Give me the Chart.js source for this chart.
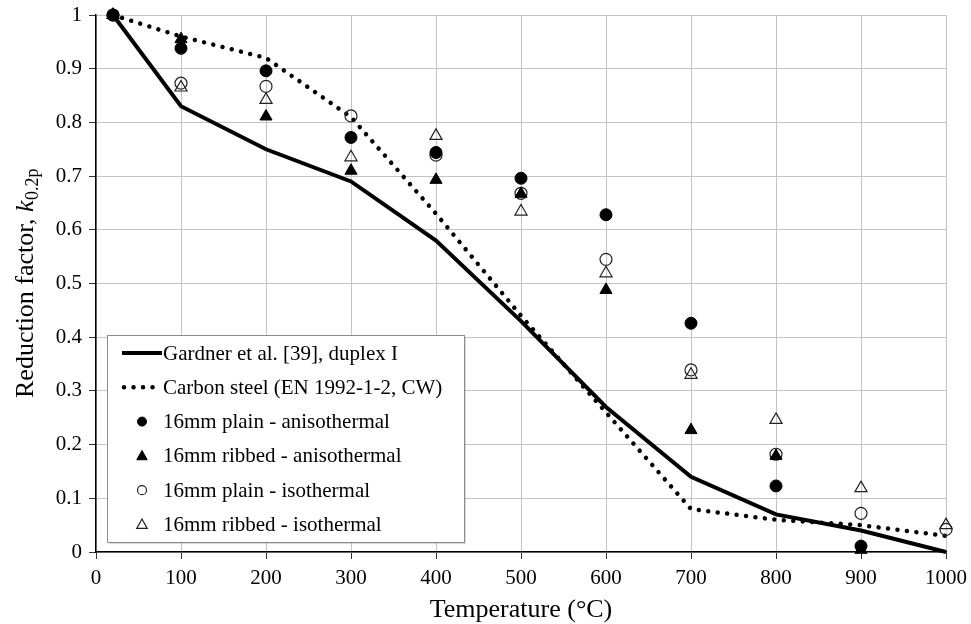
<!DOCTYPE html>
<html>
<head>
<meta charset="utf-8">
<script src="https://cdn.jsdelivr.net/npm/chart.js@4.4.1/dist/chart.umd.min.js"></script>
<style>
html,body{margin:0;padding:0;background:#fff;}
canvas{display:block;}
</style>
</head>
<body>
<canvas id="c" width="971" height="624"></canvas>
<script>
// ---- data ----
const curveTemps = [20, 100, 200, 300, 400, 500, 600, 700, 800, 900, 1000];
const gardnerDuplex = [1, 0.83, 0.75, 0.69, 0.58, 0.43, 0.27, 0.14, 0.07, 0.04, 0];
const carbonSteelCW = [1, 0.96, 0.92, 0.81, 0.63, 0.44, 0.26, 0.08, 0.06, 0.05, 0.03];

const anisoTemps = [20, 100, 200, 300, 400, 500, 600, 700, 800, 900];
const plainAniso  = [1, 0.938, 0.896, 0.772, 0.744, 0.696, 0.628, 0.426, 0.123, 0.011];
const ribbedAniso = [1, 0.955, 0.811, 0.710, 0.693, 0.667, 0.488, 0.227, 0.179, 0.004];

const isoTemps = [20, 100, 200, 300, 400, 500, 600, 700, 800, 900, 1000];
const plainIso  = [1, 0.873, 0.867, 0.812, 0.739, 0.668, 0.545, 0.339, 0.182, 0.072, 0.042];
const ribbedIso = [1, 0.865, 0.842, 0.735, 0.775, 0.634, 0.519, 0.330, 0.246, 0.119, 0.050];

const seriesNames = [
  'Gardner et al. [39], duplex I',
  'Carbon steel (EN 1992-1-2, CW)',
  '16mm plain - anisothermal',
  '16mm ribbed - anisothermal',
  '16mm plain - isothermal',
  '16mm ribbed - isothermal'
];
const xTickLabels = ['0','100','200','300','400','500','600','700','800','900','1000'];
const yTickLabels = ['0','0.1','0.2','0.3','0.4','0.5','0.6','0.7','0.8','0.9','1'];
const xTitle = 'Temperature (°C)';
const yTitleMain = 'Reduction factor, ';
const yTitleItalic = 'k';
const yTitleSub = '0.2p';

// ---- chart ----
const FONT = '"Liberation Serif", "Times New Roman", serif';
const toXY = (xs, ys) => xs.map((x, i) => ({x: x, y: ys[i]}));

const datasets = [
  {label: seriesNames[0], data: toXY(curveTemps, gardnerDuplex), showLine: true,
   borderColor: '#000', borderWidth: 4, pointRadius: 0, borderCapStyle: 'butt', borderJoinStyle: 'miter', order: 6},
  {label: seriesNames[1], data: toXY(curveTemps, carbonSteelCW), showLine: true,
   borderColor: '#000', borderWidth: 4.5, borderDash: [0.01, 9.5], borderCapStyle: 'round', pointRadius: 0, order: 5},
  {label: seriesNames[2], data: toXY(anisoTemps, plainAniso), showLine: false,
   pointStyle: 'circle', pointRadius: 6, backgroundColor: '#000', borderColor: '#000', borderWidth: 1, order: 1},
  {label: seriesNames[3], data: toXY(anisoTemps, ribbedAniso), showLine: false,
   pointStyle: 'triangle', pointRadius: 7, backgroundColor: '#000', borderColor: '#000', borderWidth: 1, order: 2},
  {label: seriesNames[4], data: toXY(isoTemps, plainIso), showLine: false,
   pointStyle: 'circle', pointRadius: 6, backgroundColor: 'rgba(0,0,0,0)', borderColor: '#222', borderWidth: 1.2, order: 3},
  {label: seriesNames[5], data: toXY(isoTemps, ribbedIso), showLine: false,
   pointStyle: 'triangle', pointRadius: 7, backgroundColor: 'rgba(0,0,0,0)', borderColor: '#222', borderWidth: 1.2, order: 4}
];
datasets.forEach(d => { d.clip = false; d.pointHoverRadius = d.pointRadius; });

const titlesAndLegend = {
  id: 'titlesAndLegend',
  afterDraw(chart) {
    const ctx = chart.ctx;
    const ca = chart.chartArea;
    ctx.save();
    // x title
    ctx.fillStyle = '#000';
    ctx.font = '26px ' + FONT;
    ctx.textAlign = 'center';
    ctx.textBaseline = 'alphabetic';
    ctx.fillText(xTitle, (ca.left + ca.right) / 2, 617);
    // y title (rotated), with italic k and subscript
    ctx.save();
    ctx.translate(33, (ca.top + ca.bottom) / 2);
    ctx.rotate(-Math.PI / 2);
    ctx.textAlign = 'left';
    ctx.textBaseline = 'alphabetic';
    const fMain = '26px ' + FONT, fIt = 'italic 26px ' + FONT, fSub = '18px ' + FONT;
    ctx.font = fMain; const w1 = ctx.measureText(yTitleMain).width;
    ctx.font = fIt; const w2 = ctx.measureText(yTitleItalic).width;
    ctx.font = fSub; const w3 = ctx.measureText(yTitleSub).width;
    let x = -(w1 + w2 + w3) / 2;
    ctx.font = fMain; ctx.fillText(yTitleMain, x, 0); x += w1;
    ctx.font = fIt; ctx.fillText(yTitleItalic, x, 0); x += w2 + 0.5;
    ctx.font = fSub; ctx.fillText(yTitleSub, x, 5);
    ctx.restore();

    // legend box
    const bx = 107, by = 335, bw = 357, bh = 207;
    ctx.fillStyle = 'rgba(0,0,0,0.15)';
    ctx.fillRect(bx + 2, by + 2, bw, bh);
    ctx.fillStyle = '#fff';
    ctx.fillRect(bx, by, bw, bh);
    ctx.strokeStyle = '#8c8c8c';
    ctx.lineWidth = 1;
    ctx.strokeRect(bx + 0.5, by + 0.5, bw, bh);

    const rowY0 = 353, rowH = 34.3;
    chart.data.datasets.forEach((ds, i) => {
      const y = rowY0 + i * rowH;
      if (ds.showLine) {
        ctx.save();
        ctx.strokeStyle = ds.borderColor;
        ctx.lineWidth = ds.borderWidth;
        ctx.lineCap = ds.borderCapStyle || 'butt';
        ctx.setLineDash(ds.borderDash || []);
        ctx.beginPath();
        if (ds.borderDash) { ctx.moveTo(124, y); ctx.lineTo(162, y); }
        else { ctx.moveTo(122, y); ctx.lineTo(162, y); }
        ctx.stroke();
        ctx.restore();
      } else {
        ctx.save();
        ctx.fillStyle = ds.backgroundColor;
        ctx.strokeStyle = ds.borderColor;
        ctx.lineWidth = ds.borderWidth;
        ctx.beginPath();
        if (ds.pointStyle === 'circle') {
          ctx.arc(142, y, 4.5, 0, Math.PI * 2);
        } else {
          const r = 5.5;
          ctx.moveTo(142, y - r);
          ctx.lineTo(142 + r * 0.95, y + r * 0.7);
          ctx.lineTo(142 - r * 0.95, y + r * 0.7);
          ctx.closePath();
        }
        ctx.fill();
        ctx.stroke();
        ctx.restore();
      }
      ctx.fillStyle = '#000';
      ctx.font = '21px ' + FONT;
      ctx.textAlign = 'left';
      ctx.textBaseline = 'middle';
      ctx.fillText(ds.label, 163, y + 1);
    });
    ctx.restore();
  }
};

new Chart(document.getElementById('c'), {
  type: 'scatter',
  data: {datasets: datasets},
  options: {
    responsive: false,
    devicePixelRatio: 1,
    animation: false,
    events: [],
    layout: {padding: {left: 0, right: 25, top: 15, bottom: 0}},
    plugins: {legend: {display: false}, tooltip: {enabled: false}},
    scales: {
      x: {
        type: 'linear', min: 0, max: 1000,
        afterFit(s) { s.height = 72; s.paddingRight = 20; s.paddingLeft = 0; },
        afterBuildTicks(s) { s.ticks = xTickLabels.map(v => ({value: Number(v)})); },
        ticks: {
          callback: (v, i) => xTickLabels[i],
          color: '#000', font: {family: FONT, size: 21}, padding: 7, maxRotation: 0, autoSkip: false
        },
        grid: {color: '#c4c4c4', lineWidth: 1, tickLength: 7, tickColor: '#333', drawTicks: true},
        border: {color: '#000', width: 1.5}
      },
      y: {
        type: 'linear', min: 0, max: 1,
        afterFit(s) { s.width = 96; },
        afterBuildTicks(s) { s.ticks = yTickLabels.map(v => ({value: Number(v)})); },
        ticks: {
          callback: (v, i) => yTickLabels[i],
          color: '#000', font: {family: FONT, size: 21, lineHeight: 0.7}, padding: 7, autoSkip: false
        },
        grid: {color: '#c4c4c4', lineWidth: 1, tickLength: 7, tickColor: '#333', drawTicks: true},
        border: {color: '#000', width: 1.5}
      }
    }
  },
  plugins: [titlesAndLegend]
});
</script>
</body>
</html>
